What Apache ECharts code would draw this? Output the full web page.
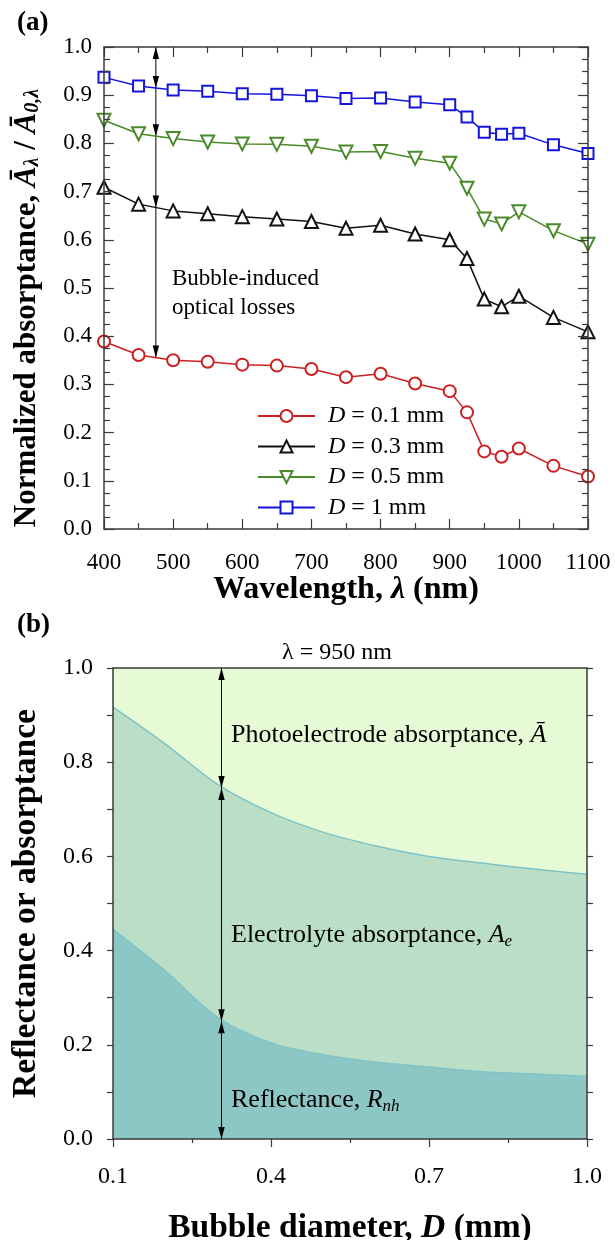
<!DOCTYPE html>
<html>
<head>
<meta charset="utf-8">
<script src="https://cdn.jsdelivr.net/npm/echarts@6/dist/echarts.min.js"></script>
<style>
  html, body { margin: 0; padding: 0; background: #fff; }
  #chart { width: 615px; height: 1240px; }
</style>
</head>
<body>
<div id="chart"></div>
<script>
// ---- (a) normalized absorptance vs wavelength ----
const wavelengths = [400, 450, 500, 550, 600, 650, 700, 750, 800, 850, 900, 925, 950, 975, 1000, 1050, 1100];
const absD01 = [0.389, 0.361, 0.350, 0.347, 0.341, 0.339, 0.332, 0.315, 0.322, 0.302, 0.286, 0.242, 0.161, 0.150, 0.167, 0.131, 0.109];
const absD03 = [0.709, 0.674, 0.660, 0.654, 0.648, 0.643, 0.638, 0.624, 0.630, 0.612, 0.600, 0.561, 0.477, 0.461, 0.483, 0.439, 0.409];
const absD05 = [0.848, 0.820, 0.810, 0.803, 0.799, 0.798, 0.794, 0.782, 0.783, 0.769, 0.759, 0.707, 0.643, 0.633, 0.658, 0.619, 0.591];
const absD1  = [0.937, 0.919, 0.911, 0.908, 0.903, 0.902, 0.899, 0.893, 0.894, 0.886, 0.880, 0.855, 0.823, 0.819, 0.821, 0.797, 0.779];
const seriesNames = ['D = 0.1 mm', 'D = 0.3 mm', 'D = 0.5 mm', 'D = 1 mm'];
const wavelengthTicks = [400, 500, 600, 700, 800, 900, 1000, 1100];
const absTicks = [0.0, 0.1, 0.2, 0.3, 0.4, 0.5, 0.6, 0.7, 0.8, 0.9, 1.0];
// arrow "bubble-induced optical losses"
const lossArrowX = 475;
const lossArrowStops = [1.0, 0.915, 0.815, 0.667, 0.356];

// ---- (b) split at 950 nm vs bubble diameter ----
const diameters = [0.1, 0.2, 0.3, 0.4, 0.5, 0.6, 0.7, 0.8, 0.9, 1.0];
const reflPlusElec = [0.917, 0.838, 0.752, 0.693, 0.651, 0.622, 0.600, 0.586, 0.573, 0.562];
const reflectance  = [0.445, 0.356, 0.257, 0.204, 0.179, 0.163, 0.153, 0.143, 0.138, 0.133];
const diameterTicks = [0.1, 0.4, 0.7, 1.0];
const fracTicks = [0.0, 0.2, 0.4, 0.6, 0.8, 1.0];
const splitArrowD = 0.306;
const splitArrowStops = [1.0, 0.745, 0.25, 0.0];

const SERIF = '"Liberation Serif", "Times New Roman", serif';
const AXIS = '#3a3a3a';
const colors = ['#cc2020', '#111111', '#4a8a2a', '#1414dc'];
const symbols = ['emptyCircle', 'emptyTriangle', 'emptyTriangle', 'emptyRect'];
const symSizes = [12, 13, 13, 11];
const absData = [absD01, absD03, absD05, absD1];

function arrowItem(params, api) {
  const a = api.coord([api.value(0), api.value(1)]);
  const b = api.coord([api.value(0), api.value(2)]);
  const len = 12, half = 3.2;
  const kids = [{ type: 'line', shape: { x1: a[0], y1: a[1], x2: b[0], y2: b[1] }, style: { stroke: '#000', lineWidth: 1 } }];
  const head = (tip, from) => {
    const dx = from[0] - tip[0], dy = from[1] - tip[1];
    const d = Math.hypot(dx, dy) || 1;
    const ux = dx / d, uy = dy / d;
    const bx = tip[0] + ux * len, by = tip[1] + uy * len;
    return { type: 'polygon', shape: { points: [[tip[0], tip[1]], [bx - uy * half, by + ux * half], [bx + uy * half, by - ux * half]] }, style: { fill: '#000' } };
  };
  if (api.value(3)) kids.push(head(a, b));
  if (api.value(4)) kids.push(head(b, a));
  return { type: 'group', children: kids };
}

const lossSegments = [];
for (let i = 0; i < lossArrowStops.length - 1; i++) {
  lossSegments.push([lossArrowX, lossArrowStops[i], lossArrowStops[i + 1], i === 0 ? 1 : 0, 1]);
}
const splitSegments = [];
for (let i = 0; i < splitArrowStops.length - 1; i++) {
  splitSegments.push([splitArrowD, splitArrowStops[i], splitArrowStops[i + 1], 1, 1]);
}

const lbl = (size, margin, show) => ({
  show: show, fontFamily: SERIF, fontSize: size, color: '#000', margin: margin,
  formatter: v => v >= 100 ? String(v) : Number(v).toFixed(1)
});
const axLine = { show: true, onZero: false, lineStyle: { color: AXIS, width: 1.5 } };

const topX = {
  type: 'value', gridIndex: 0,
  min: wavelengthTicks[0], max: wavelengthTicks[wavelengthTicks.length - 1],
  interval: wavelengthTicks[1] - wavelengthTicks[0],
  axisLine: axLine, splitLine: { show: false },
  axisTick: { inside: true, length: 10, lineStyle: { color: AXIS, width: 1.2 } },
  minorTick: { show: true, splitNumber: 2, length: 6, lineStyle: { color: AXIS, width: 1.2 } },
  z: 5
};
const topY = {
  type: 'value', gridIndex: 0,
  min: absTicks[0], max: absTicks[absTicks.length - 1],
  interval: absTicks[1] - absTicks[0],
  axisLine: axLine, splitLine: { show: false },
  axisTick: { inside: true, length: 10, lineStyle: { color: AXIS, width: 1.2 } },
  minorTick: { show: true, splitNumber: 4, length: 6, lineStyle: { color: AXIS, width: 1.2 } },
  z: 5
};
const botX = {
  type: 'value', gridIndex: 1,
  min: diameterTicks[0], max: diameterTicks[diameterTicks.length - 1],
  interval: +(diameterTicks[1] - diameterTicks[0]).toFixed(2),
  axisLine: axLine, splitLine: { show: false },
  axisTick: { inside: false, length: 8, lineStyle: { color: AXIS, width: 1.2 } },
  minorTick: { show: true, splitNumber: 2, length: 4, lineStyle: { color: AXIS, width: 1.2 } },
  z: 5
};
const botY = {
  type: 'value', gridIndex: 1,
  min: fracTicks[0], max: fracTicks[fracTicks.length - 1],
  interval: +(fracTicks[1] - fracTicks[0]).toFixed(2),
  axisLine: axLine, splitLine: { show: false },
  axisTick: { inside: false, length: 6, lineStyle: { color: AXIS, width: 1.2 } },
  minorTick: { show: true, splitNumber: 2, length: 6, lineStyle: { color: AXIS, width: 1.2 } },
  z: 5
};

const option = {
  backgroundColor: '#fff',
  animation: false,
  grid: [
    { left: 104, top: 47, width: 484, height: 482, outerBoundsMode: 'none' },
    { left: 113, top: 668, width: 474, height: 471, show: true, backgroundColor: '#e5fad5', borderWidth: 0, outerBoundsMode: 'none' }
  ],
  xAxis: [
    Object.assign({}, topX, {
      position: 'bottom', axisLabel: lbl(23, 22, true),
      name: 'Wavelength, {i|λ} (nm)', nameLocation: 'middle', nameGap: 45, nameMoveOverlap: false,
      nameTextStyle: { fontFamily: SERIF, fontSize: 32, fontWeight: 'bold', color: '#000',
        rich: { i: { fontFamily: SERIF, fontSize: 32, fontWeight: 'bold', fontStyle: 'italic', color: '#000' } } }
    }),
    Object.assign({}, topX, { position: 'top', axisLabel: { show: false } }),
    Object.assign({}, botX, {
      position: 'bottom', axisLabel: lbl(24, 26, true),
      name: 'Bubble diameter, {i|D} (mm)', nameLocation: 'middle', nameGap: 72, nameMoveOverlap: false,
      nameTextStyle: { fontFamily: SERIF, fontSize: 33.5, fontWeight: 'bold', color: '#000',
        rich: { i: { fontFamily: SERIF, fontSize: 33.5, fontWeight: 'bold', fontStyle: 'italic', color: '#000' } } }
    }),
    Object.assign({}, botX, { position: 'top', axisLabel: { show: false }, axisTick: { show: false }, minorTick: { show: false } })
  ],
  yAxis: [
    Object.assign({}, topY, {
      position: 'left', axisLabel: lbl(23, 12, true),
      name: 'Normalized absorptance, {a|Ā}{s|λ}{n| / }{a|Ā}{s|0,λ}',
      nameLocation: 'middle', nameGap: 61, nameMoveOverlap: false,
      nameTextStyle: { fontFamily: SERIF, fontSize: 31, fontWeight: 'bold', color: '#000', padding: [0, 40, 0, 0],
        rich: {
          a: { fontFamily: SERIF, fontSize: 31, fontWeight: 'bold', fontStyle: 'italic', color: '#000' },
          n: { fontFamily: SERIF, fontSize: 31, fontWeight: 'bold', color: '#000' },
          s: { fontFamily: SERIF, fontSize: 20, fontWeight: 'bold', fontStyle: 'italic', color: '#000', padding: [13, 0, 0, 0] }
        } }
    }),
    Object.assign({}, topY, { position: 'right', axisLabel: { show: false } }),
    Object.assign({}, botY, {
      position: 'left', axisLabel: lbl(24, 20, true),
      name: 'Reflectance or absorptance', nameLocation: 'middle', nameGap: 70, nameMoveOverlap: false,
      nameTextStyle: { fontFamily: SERIF, fontSize: 33.5, fontWeight: 'bold', color: '#000' }
    }),
    Object.assign({}, botY, { position: 'right', axisLabel: { show: false } })
  ],
  legend: {
    data: seriesNames, orient: 'vertical', left: 252, top: 399,
    itemWidth: 57, itemHeight: 15, itemGap: 6.5, selectedMode: false,
    formatter: name => '{i|D}' + name.slice(1),
    textStyle: { fontFamily: SERIF, fontSize: 24, color: '#000', padding: [0, 0, 0, 8],
      rich: { i: { fontFamily: SERIF, fontSize: 24, fontStyle: 'italic', color: '#000' } } }
  },
  graphic: [
    { type: 'text', left: 17, top: 10, style: { text: '(a)', font: 'bold 27px ' + SERIF, fill: '#000' } },
    { type: 'text', left: 17, top: 612, style: { text: '(b)', font: 'bold 27px ' + SERIF, fill: '#000' } },
    { type: 'text', x: 172, y: 264, style: { text: 'Bubble-induced\noptical losses', font: '23px ' + SERIF, fill: '#000', lineHeight: 29 } },
    { type: 'text', x: 337, y: 653, style: { text: 'λ = 950 nm', font: '24px ' + SERIF, fill: '#000', align: 'center', verticalAlign: 'middle' } },
    { type: 'text', x: 231, y: 735, z: 10, style: { text: 'Photoelectrode absorptance, {i|Ā}', font: '26px ' + SERIF, fill: '#000', verticalAlign: 'middle',
      rich: { i: { fontFamily: SERIF, fontSize: 26, fontStyle: 'italic', fill: '#000' } } } },
    { type: 'text', x: 231, y: 935, z: 10, style: { text: 'Electrolyte absorptance, {i|A}{s|e}', font: '26px ' + SERIF, fill: '#000', verticalAlign: 'middle',
      rich: { i: { fontFamily: SERIF, fontSize: 26, fontStyle: 'italic', fill: '#000' },
              s: { fontFamily: SERIF, fontSize: 17, fontStyle: 'italic', fill: '#000', padding: [14, 0, 0, 0] } } } },
    { type: 'text', x: 231, y: 1100, z: 10, style: { text: 'Reflectance, {i|R}{s|nh}', font: '26px ' + SERIF, fill: '#000', verticalAlign: 'middle',
      rich: { i: { fontFamily: SERIF, fontSize: 26, fontStyle: 'italic', fill: '#000' },
              s: { fontFamily: SERIF, fontSize: 17, fontStyle: 'italic', fill: '#000', padding: [14, 0, 0, 0] } } } }
  ],
  series: [
    ...seriesNames.map((name, i) => ({
      name: name, type: 'line', xAxisIndex: 0, yAxisIndex: 0,
      data: wavelengths.map((w, j) => [w, absData[i][j]]),
      symbol: symbols[i], symbolSize: symSizes[i], symbolRotate: i === 2 ? 180 : 0,
      itemStyle: { color: colors[i], borderWidth: 2 },
      lineStyle: { color: colors[i], width: 1.5 },
      z: 4
    })),
    {
      type: 'custom', xAxisIndex: 0, yAxisIndex: 0, silent: true, z: 3,
      data: lossSegments, encode: { x: 0, y: [1, 2] }, renderItem: arrowItem
    },
    {
      name: 'Electrolyte', type: 'line', xAxisIndex: 2, yAxisIndex: 2,
      data: diameters.map((d, j) => [d, reflPlusElec[j]]),
      smooth: 0.35, symbol: 'none',
      lineStyle: { color: '#7fc3c6', width: 1.5 },
      areaStyle: { color: '#badfc6', opacity: 1 },
      z: 2
    },
    {
      name: 'Reflectance', type: 'line', xAxisIndex: 2, yAxisIndex: 2,
      data: diameters.map((d, j) => [d, reflectance[j]]),
      smooth: 0.35, symbol: 'none',
      lineStyle: { color: '#7fc3c6', width: 1.5 },
      areaStyle: { color: '#8dc7c5', opacity: 1 },
      z: 2
    },
    {
      type: 'custom', xAxisIndex: 2, yAxisIndex: 2, silent: true, z: 6,
      data: splitSegments, encode: { x: 0, y: [1, 2] }, renderItem: arrowItem
    }
  ]
};

const chart = echarts.init(document.getElementById('chart'));
chart.setOption(option);
</script>
</body>
</html>
